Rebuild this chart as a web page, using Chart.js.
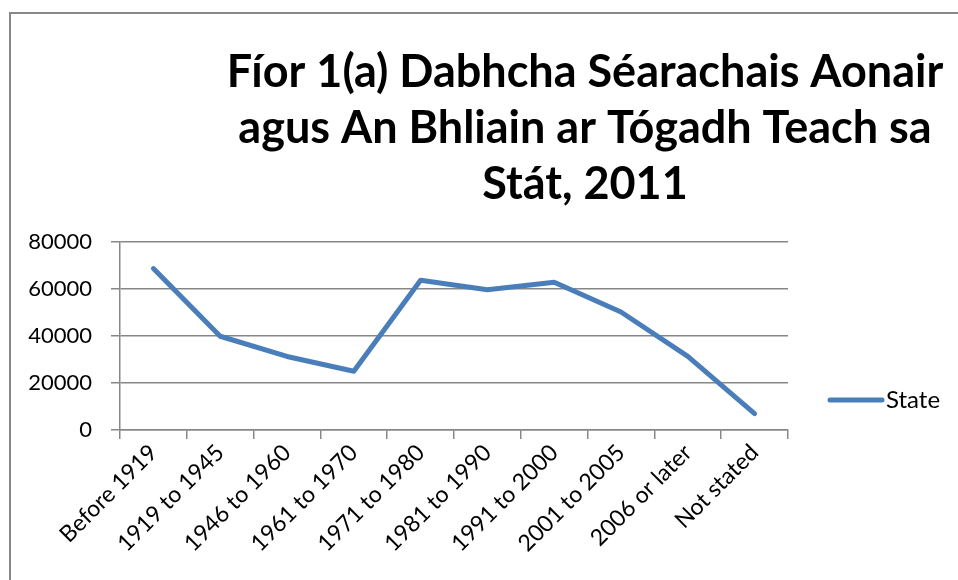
<!DOCTYPE html>
<html>
<head>
<meta charset="utf-8">
<script src="https://cdn.jsdelivr.net/npm/chart.js@4.4.0/dist/chart.umd.min.js"></script>
<style>
  html, body { margin: 0; padding: 0; background: #fff; }
  #wrap { position: relative; width: 958px; height: 580px; overflow: hidden; }
  #frame { position: absolute; left: 9px; top: 12px; width: 1000px; height: 600px;
           border-left: 2px solid #878787; border-top: 2px solid #878787; }
  #myChart { position: absolute; left: 0; top: 0; }
</style>
</head>
<body>
<div id="wrap">
  <div id="frame"></div>
  <canvas id="myChart" width="958" height="580"></canvas>
</div>
<script>
// Year of construction categories
const periods = ['Before 1919', '1919 to 1945', '1946 to 1960', '1961 to 1970', '1971 to 1980',
                 '1981 to 1990', '1991 to 2000', '2001 to 2005', '2006 or later', 'Not stated'];
// Houses with individual septic tank, State
const stateValues = [68700, 39900, 31300, 25000, 63700, 59700, 62900, 50200, 31300, 7000];
const yTicks = [0, 20000, 40000, 60000, 80000];

const titleLines = ['Fíor 1(a) Dabhcha Séarachais Aonair', 'agus An Bhliain ar Tógadh Teach sa', 'Stát, 2011'];
const seriesName = 'State';

const blue = '#4A7EBB';
const gridGray = '#878787';
const fontFamily = 'Lato, "Open Sans", sans-serif';

// title and legend drawn at fixed spots, like the Excel layout
const decorPlugin = {
  id: 'decor',
  afterDraw(chart) {
    const ctx = chart.ctx;
    ctx.save();
    ctx.fillStyle = '#000';
    ctx.textAlign = 'center';
    ctx.textBaseline = 'middle';
    ctx.font = 'bold 45px ' + fontFamily;
    titleLines.forEach((line, i) => {
      ctx.fillText(line, 585, 72 + i * 56);
    });

    // legend
    const ly = 400;
    ctx.strokeStyle = blue;
    ctx.lineWidth = 5;
    ctx.lineCap = 'round';
    ctx.beginPath();
    ctx.moveTo(830, ly);
    ctx.lineTo(882, ly);
    ctx.stroke();
    ctx.textAlign = 'left';
    ctx.font = '24px ' + fontFamily;
    ctx.fillText(seriesName, 886, ly);
    ctx.restore();
  }
};

const ctx = document.getElementById('myChart').getContext('2d');
new Chart(ctx, {
  type: 'line',
  data: {
    labels: periods,
    datasets: [{
      label: seriesName,
      data: stateValues,
      borderColor: blue,
      backgroundColor: blue,
      borderWidth: 5,
      pointRadius: 0,
      tension: 0,
      borderCapStyle: 'round',
      borderJoinStyle: 'round'
    }]
  },
  options: {
    responsive: false,
    animation: false,
    layout: {
      padding: { top: 242, right: 170, left: 0, bottom: 0 }
    },
    plugins: {
      legend: { display: false },
      title: { display: false },
      tooltip: { enabled: false }
    },
    scales: {
      x: {
        offset: true,
        grid: {
          offset: true,
          drawOnChartArea: false,
          drawTicks: true,
          tickLength: 9,
          color: gridGray,
          lineWidth: 1.5
        },
        border: { color: gridGray, width: 1.5 },
        ticks: {
          color: '#000',
          minRotation: 45,
          maxRotation: 45,
          autoSkip: false,
          padding: 0,
          font: { family: fontFamily, size: 23 }
        },
        afterFit(scale) { scale.height = 150; }
      },
      y: {
        min: 0,
        max: 80000,
        afterBuildTicks(scale) {
          scale.ticks = yTicks.map(v => ({ value: v }));
        },
        grid: {
          color: gridGray,
          lineWidth: 1.5,
          drawTicks: true,
          tickLength: 9
        },
        border: { color: gridGray, width: 1.5 },
        ticks: {
          color: '#000',
          padding: 19,
          font: { family: fontFamily, size: 22 },
          callback: v => String(v)
        },
        afterFit(scale) { scale.width = 120; }
      }
    }
  },
  plugins: [decorPlugin]
});
</script>
</body>
</html>
